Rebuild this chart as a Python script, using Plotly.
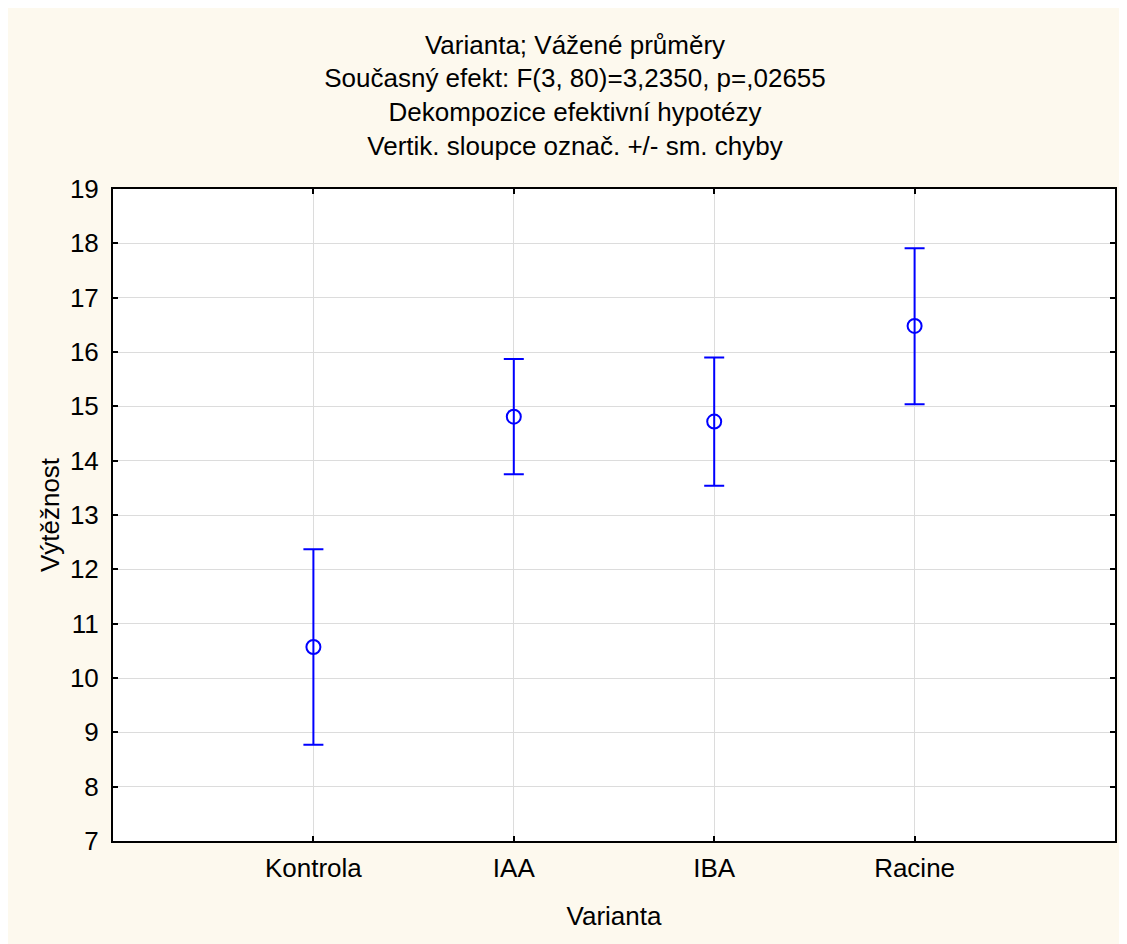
import plotly.graph_objects as go

categories = ["Kontrola", "IAA", "IBA", "Racine"]
means = [10.57, 14.81, 14.72, 16.48]
se_upper = [1.80, 1.06, 1.18, 1.43]
se_lower = [1.80, 1.06, 1.18, 1.44]
title_lines = [
    "Varianta; Vážené průměry",
    "Současný efekt: F(3, 80)=3,2350, p=,02655",
    "Dekompozice efektivní hypotézy",
    "Vertik. sloupce označ. +/- sm. chyby",
]
y_ticks = list(range(7, 20))

FONT = "Liberation Sans, Arial, sans-serif"
BLUE = "#0000FF"
CREAM = "#FDF9EE"
FS = 26

fig = go.Figure()
fig.add_trace(go.Scatter(
    x=categories, y=means, mode="markers",
    marker=dict(symbol="circle-open", size=14, color=BLUE, line=dict(width=2, color=BLUE)),
    error_y=dict(type="data", symmetric=False, array=se_upper, arrayminus=se_lower,
                 color=BLUE, thickness=2, width=10),
    showlegend=False,
))

W, H = 1119, 936
L, R, T, B = 105, 10, 181, 103

fig.update_layout(
    width=W, height=H,
    margin=dict(l=L, r=R, t=T, b=B, pad=0),
    paper_bgcolor=CREAM, plot_bgcolor="white",
    font=dict(family=FONT, size=FS, color="black"),
    title=dict(text="<br>".join(title_lines), xref="container", x=567 / W, xanchor="center",
               yref="container", y=1 - 45.5 / H, yanchor="middle",
               font=dict(family=FONT, size=FS, color="black")),
    xaxis=dict(type="category", range=[-1, len(categories)], showline=True, linecolor="black",
               linewidth=2, mirror="allticks", ticks="inside", ticklen=5, tickwidth=2,
               tickcolor="black", showgrid=True, gridcolor="#DCDCDC", gridwidth=1,
               zeroline=False, ticklabelstandoff=3, tickfont=dict(size=FS),
               title=dict(text="Varianta", standoff=25, font=dict(size=FS))),
    yaxis=dict(range=[7, 19], tickvals=y_ticks, showline=True, linecolor="black",
               linewidth=2, mirror="allticks", ticks="inside", ticklen=5, tickwidth=2,
               tickcolor="black", showgrid=True, gridcolor="#DCDCDC", gridwidth=1,
               zeroline=False, ticklabelstandoff=7, tickfont=dict(size=FS),
               title=dict(text="Výtěžnost", standoff=3, font=dict(size=FS))),
)

fig.write_html("out.html")
